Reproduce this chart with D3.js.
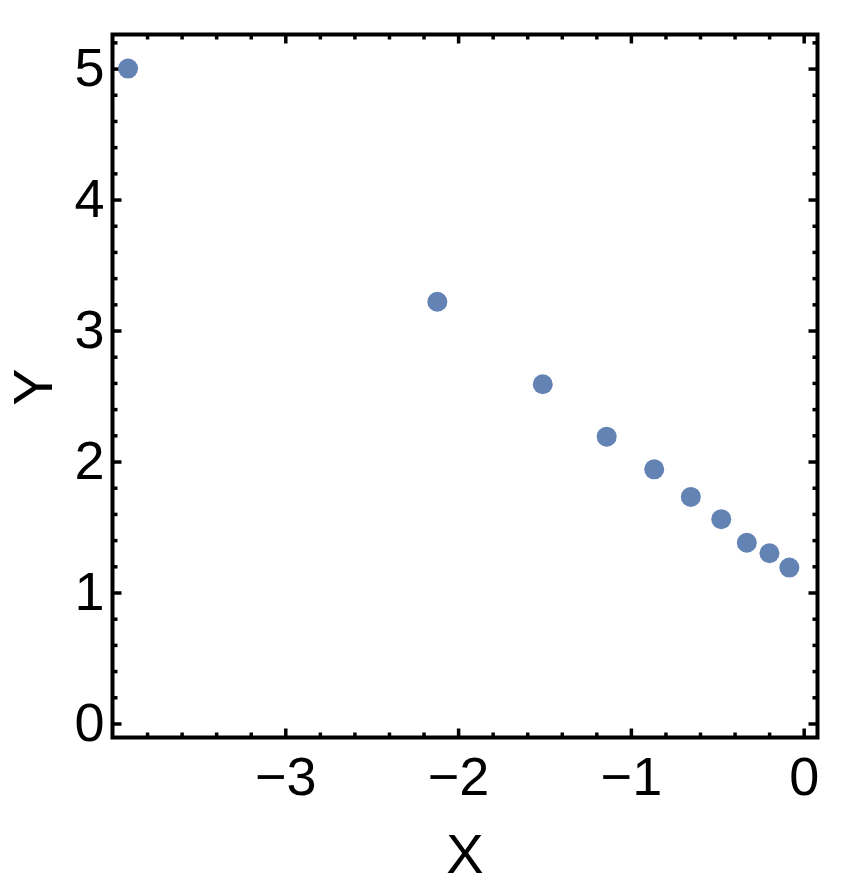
<!DOCTYPE html>
<html>
<head>
<meta charset="utf-8">
<script src="https://cdnjs.cloudflare.com/ajax/libs/d3/7.8.5/d3.min.js"></script>
<style>
  body { margin: 0; background: #fff; }
  svg text { font-family: "Liberation Sans", Arial, Helvetica, sans-serif; fill: #000; }
</style>
</head>
<body>
<div id="chart"></div>
<script>
// values
var xValues = [-3.91, -2.12, -1.51, -1.14, -0.865, -0.653, -0.477, -0.329, -0.198, -0.083];
var yValues = [5.00, 3.22, 2.59, 2.19, 1.94, 1.73, 1.56, 1.38, 1.30, 1.19];
var xMajor = [-3, -2, -1, 0];
var yMajor = [0, 1, 2, 3, 4, 5];
var xMinor = [-3.8, -3.6, -3.4, -3.2, -2.8, -2.6, -2.4, -2.2, -1.8, -1.6, -1.4, -1.2, -0.8, -0.6, -0.4, -0.2];
var yMinor = [0.2, 0.4, 0.6, 0.8, 1.2, 1.4, 1.6, 1.8, 2.2, 2.4, 2.6, 2.8, 3.2, 3.4, 3.6, 3.8, 4.2, 4.4, 4.6, 4.8, 5.2];
var xDomain = [-4.0, 0.08];
var yDomain = [-0.107, 5.26];

var W = 844, H = 888;
var margin = { top: 34.5, right: 26.5, bottom: 150.5, left: 112.5 },
    width = W - margin.left - margin.right,
    height = H - margin.top - margin.bottom;

var svg = d3.select("#chart").append("svg")
    .attr("width", W)
    .attr("height", H)
    .append("g")
    .attr("transform", "translate(" + margin.left + "," + margin.top + ")");

var x = d3.scaleLinear().domain(xDomain).range([0, width]);
var y = d3.scaleLinear().domain(yDomain).range([height, 0]);

var fmt = d3.format("d");
var majorLen = 9, minorLen = 5, fontSize = 54;

function styleAxis(g) {
    g.select(".domain").remove();
    g.selectAll(".tick line").attr("stroke", "#000").attr("stroke-width", 3.5);
    g.selectAll(".tick text").style("font-size", fontSize + "px").attr("fill", "#000");
}

// bottom
svg.append("g").attr("transform", "translate(0," + height + ")")
    .call(d3.axisBottom(x).tickValues(xMinor).tickSize(-minorLen).tickFormat(""))
    .call(styleAxis);
svg.append("g").attr("transform", "translate(0," + height + ")")
    .call(d3.axisBottom(x).tickValues(xMajor).tickSize(-majorLen).tickPadding(19).tickFormat(fmt))
    .call(styleAxis);
// top
svg.append("g")
    .call(d3.axisTop(x).tickValues(xMinor).tickSize(-minorLen).tickFormat(""))
    .call(styleAxis);
svg.append("g")
    .call(d3.axisTop(x).tickValues(xMajor).tickSize(-majorLen).tickFormat(""))
    .call(styleAxis);
// left
svg.append("g")
    .call(d3.axisLeft(y).tickValues(yMinor).tickSize(-minorLen).tickFormat(""))
    .call(styleAxis);
svg.append("g")
    .call(d3.axisLeft(y).tickValues(yMajor).tickSize(-majorLen).tickPadding(8).tickFormat(fmt))
    .call(styleAxis);
// right
svg.append("g").attr("transform", "translate(" + width + ",0)")
    .call(d3.axisRight(y).tickValues(yMinor).tickSize(-minorLen).tickFormat(""))
    .call(styleAxis);
svg.append("g").attr("transform", "translate(" + width + ",0)")
    .call(d3.axisRight(y).tickValues(yMajor).tickSize(-majorLen).tickFormat(""))
    .call(styleAxis);

// frame
svg.append("rect")
    .attr("width", width)
    .attr("height", height)
    .attr("fill", "none")
    .attr("stroke", "#000")
    .attr("stroke-width", 4);

// points
svg.selectAll("circle.pt")
    .data(xValues.map(function (d, i) { return { x: d, y: yValues[i] }; }))
    .enter().append("circle")
    .attr("class", "pt")
    .attr("cx", function (d) { return x(d.x); })
    .attr("cy", function (d) { return y(d.y); })
    .attr("r", 10)
    .attr("fill", "#6483b5");

// axis titles
svg.append("text")
    .attr("x", 465 - margin.left)
    .attr("y", 873 - margin.top)
    .attr("text-anchor", "middle")
    .style("font-size", "56px")
    .text("X");

svg.append("text")
    .attr("transform", "translate(" + (52 - margin.left) + "," + (387 - margin.top) + ") rotate(-90)")
    .attr("text-anchor", "middle")
    .style("font-size", "56px")
    .text("Y");
</script>
</body>
</html>
